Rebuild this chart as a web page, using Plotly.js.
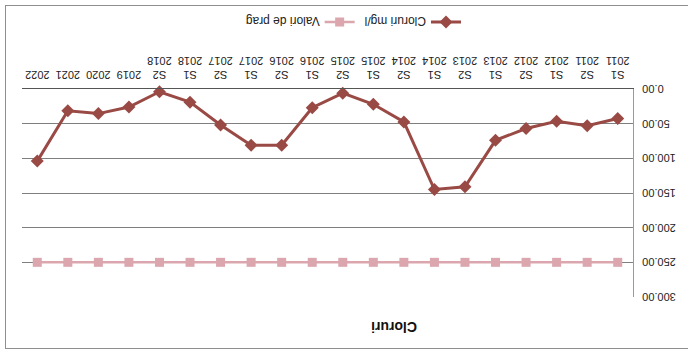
<!DOCTYPE html>
<html>
<head>
<meta charset="utf-8">
<script src="https://cdn.plot.ly/plotly-3.0.1.min.js"></script>
<style>
  html, body { margin: 0; padding: 0; background: #ffffff; }
  #wrap { position: relative; width: 688px; height: 351px; transform: rotate(180deg); transform-origin: 50% 50%; overflow: hidden; }
  #chart { position: absolute; left: 0; top: 0; width: 688px; height: 351px; }
  #frame { position: absolute; left: -10px; top: 2px; width: 692px; height: 342px;
           border-top: 1.5px solid #8f8f8f; border-right: 1.5px solid #8f8f8f; border-bottom: 1.5px solid #8f8f8f; pointer-events: none; }
</style>
</head>
<body>
<div id="wrap"><div id="chart"></div><div id="frame"></div></div>
<script>
const categories = ['S1<br>2011','S2<br>2011','S1<br>2012','S2<br>2012','S1<br>2013','S2<br>2013','S1<br>2014','S2<br>2014',
  'S1<br>2015','S2<br>2015','S1<br>2016','S2<br>2016','S1<br>2017','S2<br>2017','S1<br>2018','S2<br>2018',
  '2019','2020','2021','2022'];
const cloruri = [42.5, 53, 46.5, 57, 74, 141, 145, 47.5, 22, 6, 27, 81, 81, 52, 19, 4, 26, 35.5, 31.5, 104];
const valoriPrag = [250, 250, 250, 250, 250, 250, 250, 250, 250, 250, 250, 250, 250, 250, 250, 250, 250, 250, 250, 250];
const seriesNames = ['Cloruri mg/l', 'Valori de prag'];
const yTicks = [0, 50, 100, 150, 200, 250, 300];

const font = 'Liberation Sans, Arial, sans-serif';
const traces = [
  { x: categories, y: cloruri, name: seriesNames[0], type: 'scatter', mode: 'lines+markers',
    line: { color: '#9A4A45', width: 3 }, marker: { symbol: 'diamond', size: 10, color: '#9A4A45' }, cliponaxis: false },
  { x: categories, y: valoriPrag, name: seriesNames[1], type: 'scatter', mode: 'lines+markers',
    line: { color: '#DBA6AE', width: 2.5 }, marker: { symbol: 'square', size: 9, color: '#DBA6AE' }, cliponaxis: false }
];
const layout = {
  width: 688, height: 351,
  margin: { l: 55, r: 22, t: 54, b: 89 },
  paper_bgcolor: '#ffffff', plot_bgcolor: '#ffffff',
  font: { family: font, size: 11, color: '#222' },
  title: { text: 'Cloruri', xref: 'container', yref: 'container', x: 294/688, xanchor: 'center', y: 1 - 24/351, yanchor: 'middle',
    font: { family: font, size: 14, weight: 'bold', color: '#111' } },
  showlegend: true,
  legend: { orientation: 'h', xref: 'container', yref: 'container', x: 222/688, xanchor: 'left', y: 1 - 329/351, yanchor: 'middle',
    font: { family: font, size: 12, color: '#222' }, bgcolor: 'rgba(0,0,0,0)', traceorder: 'normal' },
  xaxis: { type: 'category', range: [-0.5, categories.length - 0.5], showgrid: false, zeroline: false,
    showline: true, linecolor: '#555', linewidth: 1, ticks: '', tickangle: 0, ticklabelstandoff: 4,
    tickfont: { family: font, size: 11, color: '#222' } },
  yaxis: { range: [0, 300], tickvals: yTicks, tickformat: '.2f', showgrid: true, gridcolor: '#7f7f7f', gridwidth: 1,
    zeroline: false, showline: true, linecolor: '#9a9a9a', linewidth: 1, ticks: '', ticklabelstandoff: 6,
    tickfont: { family: font, size: 11, color: '#222' } }
};
Plotly.newPlot('chart', traces, layout, { displayModeBar: false, staticPlot: true });
</script>
</body>
</html>
